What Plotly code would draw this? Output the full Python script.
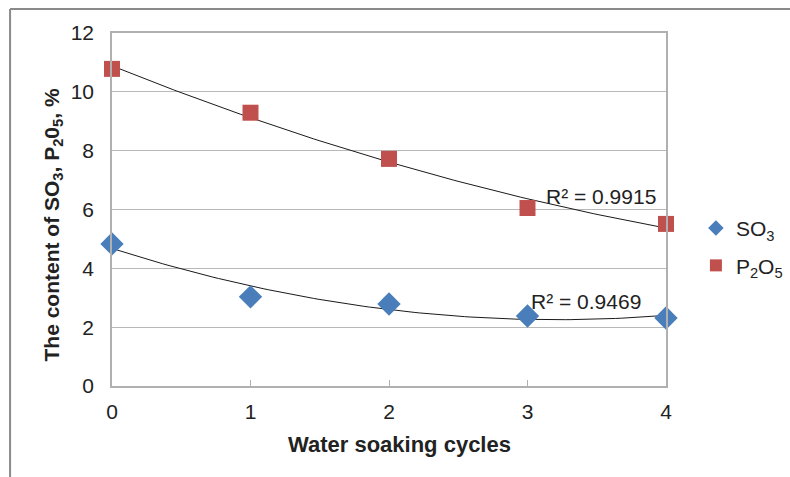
import numpy as np
import plotly.graph_objects as go

cycles = [0, 1, 2, 3, 4]
so3 = [4.83, 3.03, 2.79, 2.38, 2.31]
p2o5 = [10.78, 9.29, 7.72, 6.05, 5.51]
r2_so3 = "R² = 0.9469"
r2_p2o5 = "R² = 0.9915"
x_title = "<b>Water soaking cycles</b>"
y_title = "<b>The content of SO<sub>3</sub>, P<sub>2</sub>0<sub>5</sub>, %</b>"

xs = np.linspace(0, 4, 100)
fit_so3 = np.polyval(np.polyfit(cycles, so3, 2), xs)
fit_p2o5 = np.polyval(np.polyfit(cycles, p2o5, 2), xs)

font = "Liberation Sans, Arial, sans-serif"
fig = go.Figure()
fig.add_trace(go.Scatter(x=xs, y=fit_so3, mode="lines", line=dict(color="#1a1a1a", width=1),
                         showlegend=False, hoverinfo="skip"))
fig.add_trace(go.Scatter(x=xs, y=fit_p2o5, mode="lines", line=dict(color="#1a1a1a", width=1),
                         showlegend=False, hoverinfo="skip"))
fig.add_trace(go.Scatter(x=cycles, y=so3, mode="markers", name="SO<sub>3</sub>", cliponaxis=False,
                         legendgroup="a",
                         marker=dict(symbol="diamond", size=18, color="#4a7ebb")))
fig.add_trace(go.Scatter(x=cycles, y=p2o5, mode="markers", name="P<sub>2</sub>O<sub>5</sub>", cliponaxis=False,
                         legendgroup="b",
                         marker=dict(symbol="square", size=16, color="#c0504d")))

fig.add_annotation(x=3.12, y=6.43, text=r2_p2o5, showarrow=False, xanchor="left",
                   font=dict(size=21, color="#222", family=font))
fig.add_annotation(x=3.01, y=2.86, text=r2_so3, showarrow=False, xanchor="left",
                   font=dict(size=21, color="#222", family=font))

# axis titles
fig.add_annotation(xref="paper", yref="paper", x=0.5, y=0, xshift=10, yshift=-58,
                   xanchor="center", yanchor="middle", text=x_title, showarrow=False,
                   font=dict(size=22, color="#222", family=font))
fig.add_annotation(xref="paper", yref="paper", x=0, y=0.5, xshift=-60, yshift=-16,
                   xanchor="center", yanchor="middle", text=y_title, textangle=-90, showarrow=False,
                   font=dict(size=21, color="#222", family=font))

# outer frame (top and left edges)
fig.add_shape(type="line", xref="paper", yref="paper", x0=-0.184, x1=1.25, y0=1.068, y1=1.068,
              line=dict(color="#8a8a8a", width=2))
fig.add_shape(type="line", xref="paper", yref="paper", x0=-0.184, x1=-0.184, y0=-0.3, y1=1.068,
              line=dict(color="#8a8a8a", width=2))

fig.update_layout(
    width=790, height=477,
    margin=dict(l=112, r=124, t=33, b=91, autoexpand=False),
    paper_bgcolor="white", plot_bgcolor="white",
    font=dict(family=font, color="#222", size=21),
    legend=dict(x=1.054, y=0.394, xanchor="left", yanchor="middle", font=dict(size=21),
                bgcolor="rgba(0,0,0,0)", itemsizing="constant", tracegroupgap=7, itemwidth=30),
    xaxis=dict(range=[0, 4], tickvals=cycles, showgrid=False, zeroline=False, automargin=False,
               showline=True, linecolor="#b0b0b0", linewidth=1.5, mirror=True,
               ticks="inside", ticklen=6, tickcolor="#b0b0b0", ticklabelstandoff=6,
               tickfont=dict(size=21, family=font, color="#222")),
    yaxis=dict(range=[0, 12], tickvals=[0, 2, 4, 6, 8, 10, 12], showgrid=True, gridcolor="#b8b8b8",
               gridwidth=1, zeroline=False, showline=True, linecolor="#b0b0b0", linewidth=1.5,
               mirror=True, ticks="", automargin=False, ticklabelstandoff=12,
               tickfont=dict(size=21, family=font, color="#222")),
)

fig.write_html("out.html", config={"displayModeBar": False},
               post_script="document.body.style.margin='0px';")
